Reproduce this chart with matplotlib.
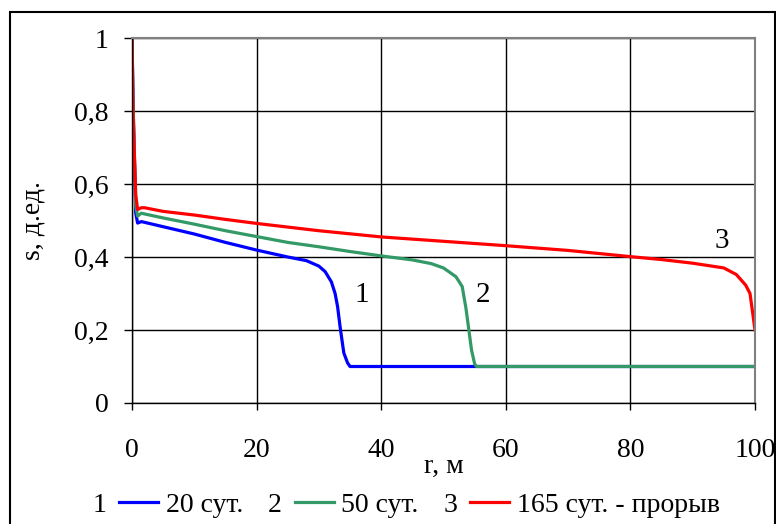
import matplotlib
matplotlib.use('Agg')
import matplotlib.pyplot as plt
from matplotlib.patches import Rectangle
from matplotlib.ticker import FuncFormatter

plt.rcParams['font.family'] = ['Liberation Serif', 'DejaVu Serif']
plt.rcParams['font.size'] = 20

# 20 сут.
r1 = [0, 0.2, 0.6, 0.9, 1.5, 2, 5, 10, 15, 20, 25, 28, 30, 31, 32, 32.6, 33, 33.4, 34, 34.6, 35, 100]
s1 = [1, 0.8, 0.52, 0.493, 0.497, 0.495, 0.483, 0.463, 0.44, 0.419, 0.40, 0.39, 0.375, 0.36, 0.332, 0.30,
      0.264, 0.209, 0.137, 0.11, 0.1, 0.1]
# 50 сут.
r2 = [0, 0.2, 0.6, 0.9, 1.5, 2, 5, 10, 15, 20, 25, 30, 35, 40, 45, 48, 50, 52, 53, 53.6, 54, 54.5, 55, 55.3, 100]
s2 = [1, 0.8, 0.54, 0.512, 0.52, 0.518, 0.507, 0.49, 0.472, 0.456, 0.44, 0.428, 0.415, 0.403, 0.392, 0.382,
      0.37, 0.346, 0.319, 0.26, 0.209, 0.145, 0.107, 0.1, 0.1]
# 165 сут. - прорыв
r3 = [0, 0.15, 0.6, 0.9, 1.5, 2, 5, 10, 15, 20, 30, 40, 50, 60, 70, 80, 85, 90, 95, 97, 98.5, 99.2, 100]
s3 = [1, 0.8, 0.57, 0.53, 0.535, 0.535, 0.525, 0.515, 0.503, 0.492, 0.472, 0.455, 0.443, 0.431, 0.418,
      0.401, 0.393, 0.383, 0.37, 0.352, 0.323, 0.30, 0.2]

labels = ['20 сут.', '50 сут.', '165 сут. - прорыв']
nums = ['1', '2', '3']
colors = ['#0000ff', '#339966', '#ff0000']

fig = plt.figure(figsize=(7.76, 5.24), dpi=100)
ax = fig.add_axes([132 / 776, 121 / 524, 623 / 776, 365 / 524])

lines = []
for r, s, c, lab in zip([r1, r2, r3], [s1, s2, s3], colors, labels):
    ln, = ax.plot(r, s, color=c, lw=2.3, label=lab, solid_joinstyle='round')
    lines.append(ln)

ax.set_xlim(0, 100)
ax.set_ylim(0, 1)
ax.set_xticks([0, 20, 40, 60, 80, 100])
ax.set_yticks([0, 0.2, 0.4, 0.6, 0.8, 1])
ax.yaxis.set_major_formatter(FuncFormatter(lambda v, p: ('%g' % v).replace('.', ',')))
ax.grid(True, color='black', lw=1.0)
ax.set_axisbelow(True)
ax.tick_params(axis='x', direction='out', length=5, width=1, pad=20)
ax.tick_params(axis='y', direction='out', length=6, width=1, pad=11)
for sp in ['top', 'right']:
    ax.spines[sp].set_color('#808080')
    ax.spines[sp].set_linewidth(1.5)
for sp in ['left', 'bottom']:
    ax.spines[sp].set_linewidth(1.0)

ax.set_xlabel('r, м', labelpad=-6)
ax.set_ylabel('s, д.ед.', labelpad=20)

# номера кривых
ax.text(36.9, 0.296, '1', ha='center', va='center', fontsize=21)
ax.text(56.3, 0.296, '2', ha='center', va='center', fontsize=21)
ax.text(94.7, 0.444, '3', ha='center', va='center', fontsize=21)

leg = fig.legend(handles=lines, labels=labels, loc='center', bbox_to_anchor=(0.5406, 1 - 505 / 524),
                 ncol=3, frameon=False, handlelength=1.4, handletextpad=0.28, columnspacing=1.85,
                 borderaxespad=0, fontsize=20)

# рамка вокруг рисунка
fig.patches.append(Rectangle((10 / 776, -0.05), 765 / 776, 1.05 - 12 / 524, transform=fig.transFigure,
                             fill=False, edgecolor='black', lw=1.5, clip_on=False))

fig.canvas.draw()
inv = fig.transFigure.inverted()
for h, t, n in zip(leg.legend_handles, leg.get_texts(), nums):
    hb = h.get_window_extent()
    tb = t.get_window_extent()
    x0, y0 = inv.transform((hb.x0 - 13, tb.y0))
    fig.text(x0, y0, n, ha='right', va='bottom', fontsize=20)

fig.savefig('out.png', dpi=100)
